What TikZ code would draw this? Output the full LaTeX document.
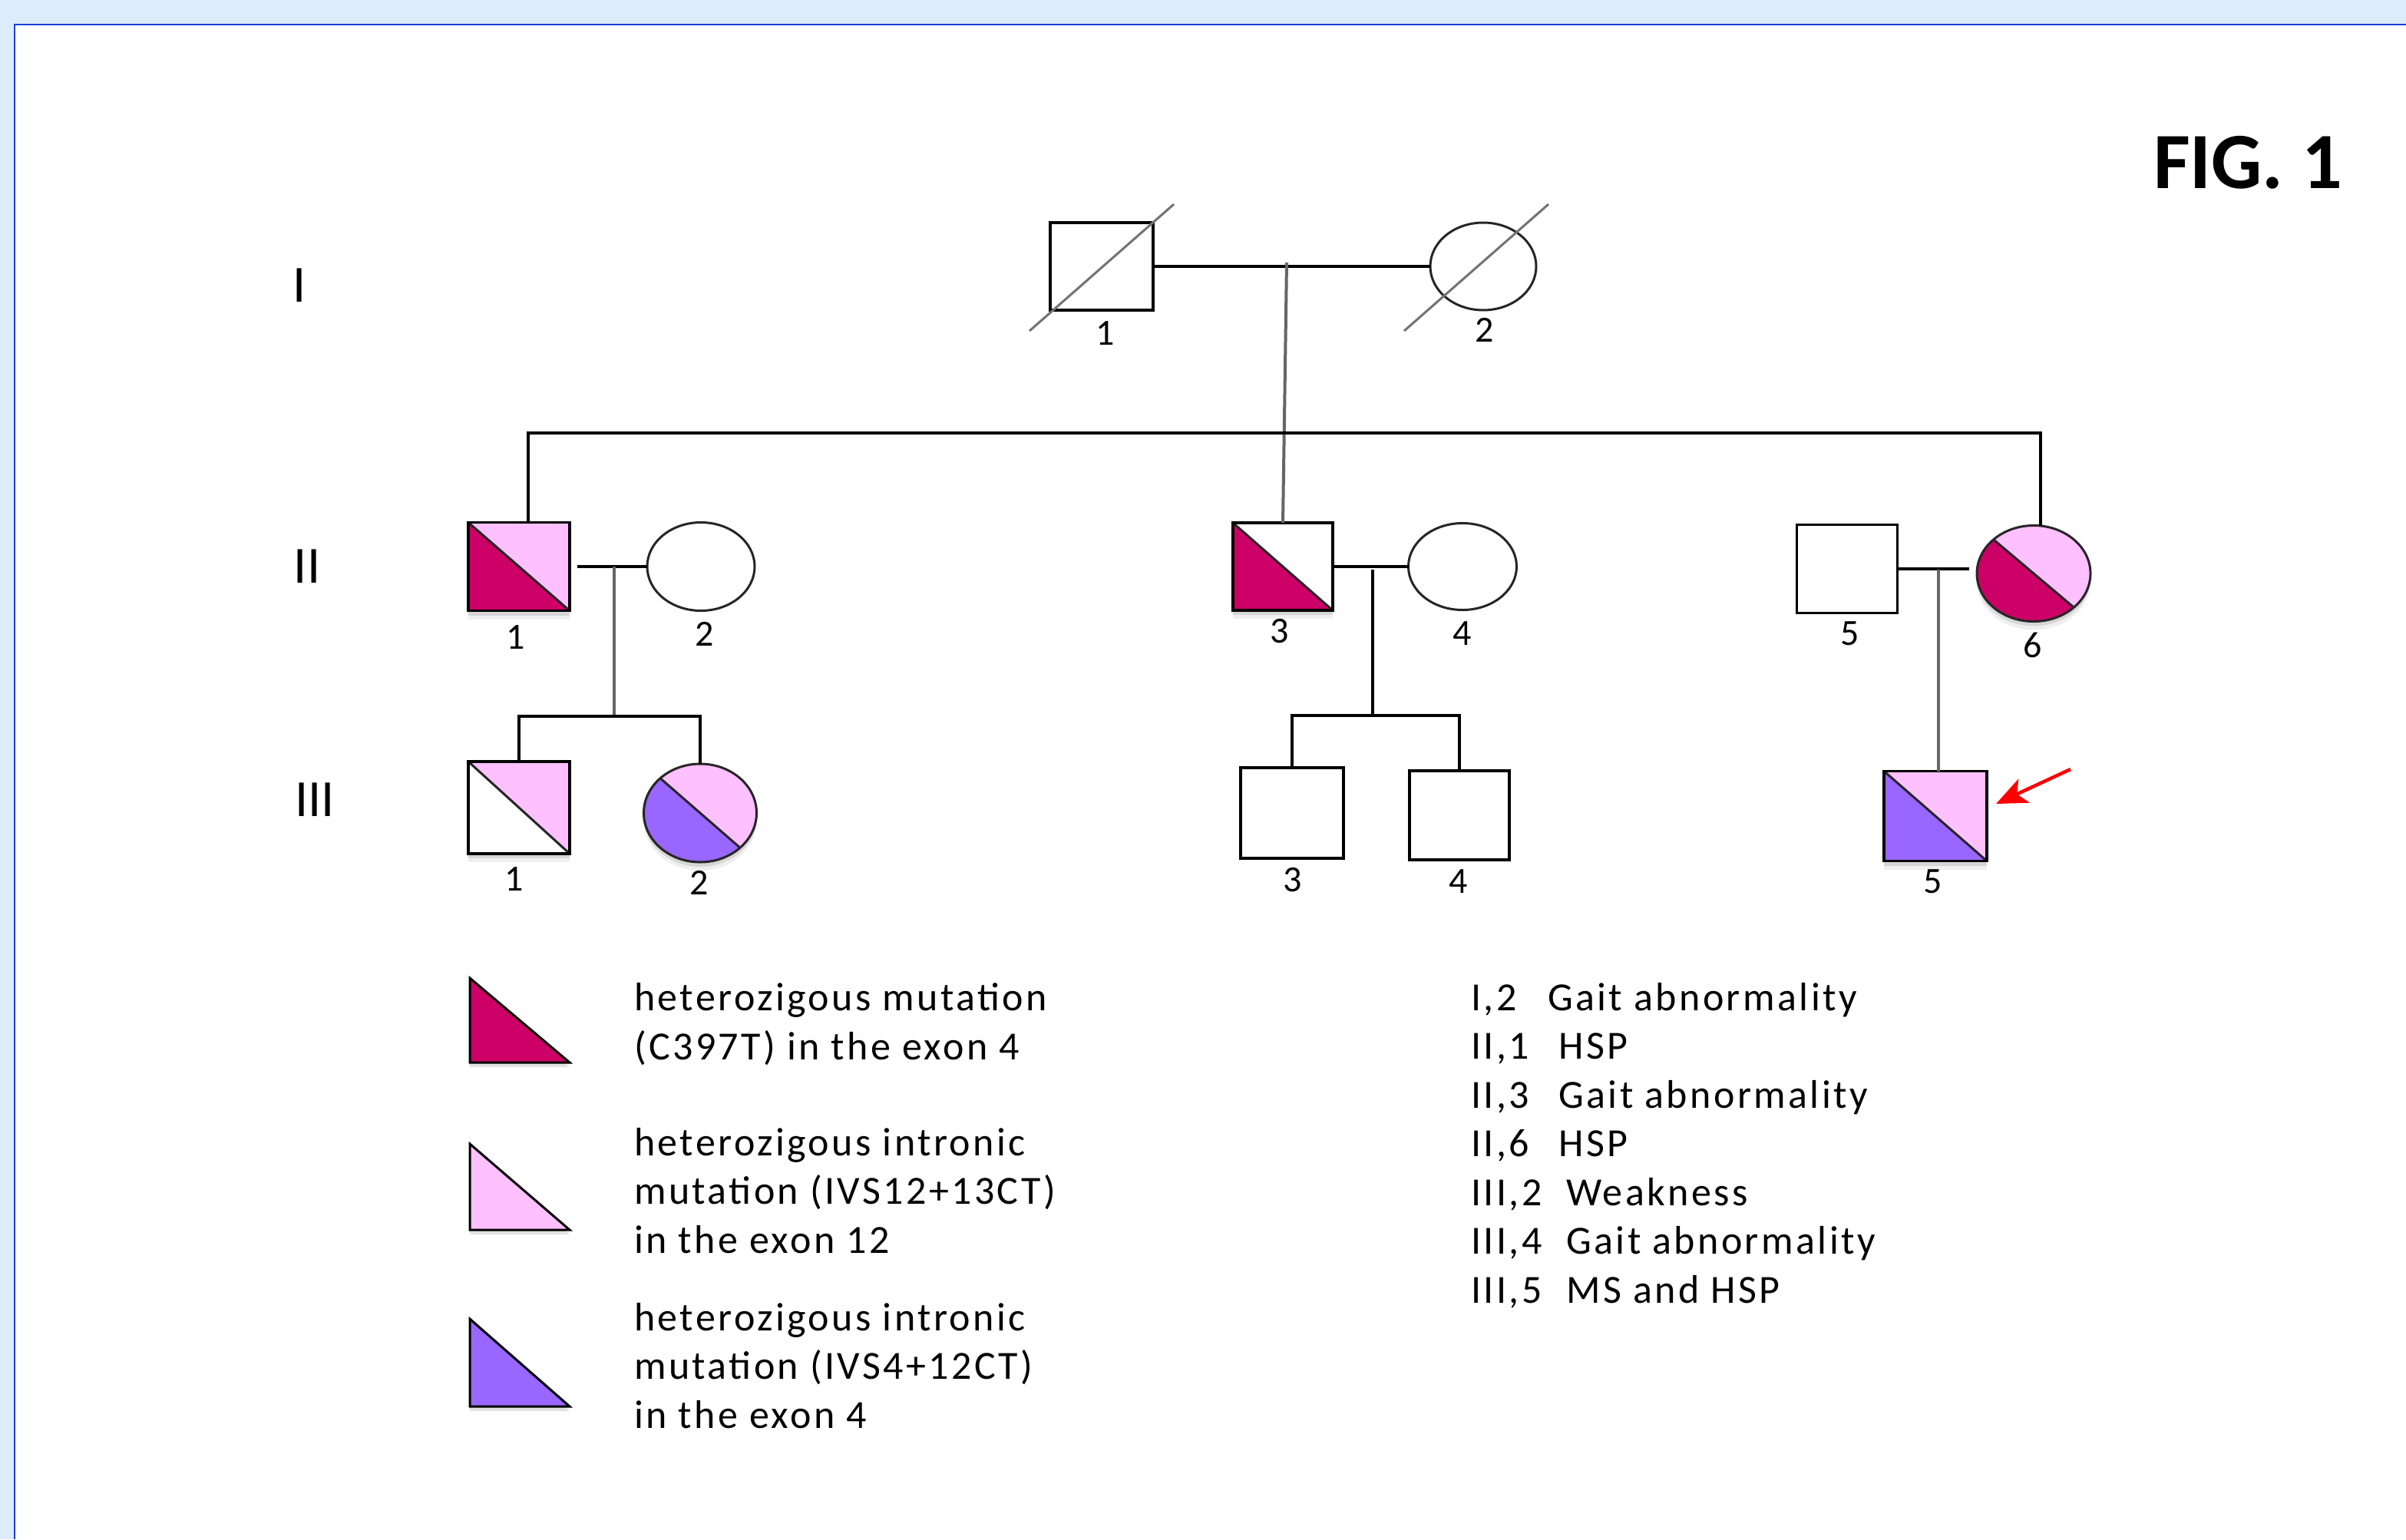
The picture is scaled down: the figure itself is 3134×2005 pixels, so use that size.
\documentclass[tikz,border=0pt]{standalone}
\usepackage{fontspec}
\setmainfont{Carlito}
\newfontfamily\legfont[LetterSpace=6.5]{Carlito}
\usetikzlibrary{shapes.geometric,shadows,arrows.meta,calc}

\definecolor{ribbon}{HTML}{DDEBFA}
\definecolor{frameblue}{HTML}{1A3ED6}
\definecolor{hetC}{HTML}{CC0066}
\definecolor{hetA}{HTML}{FFC0FF}
\definecolor{hetB}{HTML}{9966FF}

\tikzset{
  person/.style={draw=black, line width=3.5pt, inner sep=0pt, outer sep=0pt, fill=white},
  male/.style={person, rectangle, minimum width=132pt, minimum height=115pt},
  female/.style={person, ellipse, draw=black!85, line width=3pt, minimum width=140pt, minimum height=115pt},
  halves/.style 2 args={path picture={
     \fill[#1] (path picture bounding box.north west) -- (path picture bounding box.south west)
               -- (path picture bounding box.south east) -- cycle;
     \fill[#2] (path picture bounding box.north west) -- (path picture bounding box.north east)
               -- (path picture bounding box.south east) -- cycle;
     \draw[line width=3pt, black!85] (path picture bounding box.north west)
               -- (path picture bounding box.south east);}},
  shade below/.style={drop shadow={opacity=0.12, shadow xshift=0pt, shadow yshift=-11pt},
                      drop shadow={opacity=0.22, shadow xshift=0pt, shadow yshift=-6pt}},
  kin/.style={line width=3.5pt, black},
  descent/.style={line width=4pt, black!60},
  deceased/.style={line width=3pt, black!55},
  idnum/.style={font=\fontsize{48}{50}\selectfont, inner sep=0pt},
  gen/.style={font=\fontsize{68}{70}\selectfont, inner sep=0pt},
  legtext/.style={font=\legfont\fontsize{52}{63.5}\selectfont, align=left, anchor=west, inner sep=0pt},
  legmark/.style={line width=3pt, draw=black, line join=miter},
}

\begin{document}
\begin{tikzpicture}[x=1pt, y=-1pt]
\useasboundingbox (0,0) rectangle (3134,2005);

% window frame
\fill[ribbon] (0,0) rectangle (3134,2005);
\fill[white] (19,32) rectangle (3134,2005);
\draw[frameblue, line width=2.5pt] (19,2005) -- (19,32) -- (3134,32);

\node[font=\fontsize{104}{110}\selectfont\bfseries] (title) at (2928,212) {FIG. 1};

% generation numerals
\node[gen] (gI)   at (390,372)  {I};
\node[gen] (gII)  at (400,738)  {II};
\node[gen] (gIII) at (410,1042) {III};

% ---------- generation I ----------
\node[male, minimum width=134pt, minimum height=114pt] (I1) at (1435,347) {};
\node[female, minimum width=138pt, minimum height=114pt] (I2) at (1932,347) {};
\draw[deceased] (1341,431) -- (1529,266);
\draw[deceased] (1829,431) -- (2017,266);
\node[idnum] (nI1) at (1440,434) {1};
\node[idnum] (nI2) at (1934,430) {2};

% ---------- generation II ----------
\node[male, halves={hetC}{hetA}, shade below] (II1) at (676,738) {};
\node[female] (II2) at (913,738) {};
\node[male, minimum width=130pt, minimum height=114pt, halves={hetC}{white}, shade below] (II3) at (1671,738) {};
\node[female, minimum width=141pt, minimum height=113pt] (II4) at (1905,738) {};
\node[male, minimum width=131pt] (II5) at (2406,741) {};
\node[female, minimum width=148pt, minimum height=125pt, halves={hetC}{hetA}, shade below] (II6) at (2649,747) {};

\node[idnum] (nII1) at (672,830) {1};
\node[idnum] (nII2) at (918,826) {2};
\node[idnum] (nII3) at (1667,822) {3};
\node[idnum] (nII4) at (1905,825) {4};
\node[idnum] (nII5) at (2410,825) {5};
\node[idnum] (nII6) at (2648,840) {6};

% ---------- generation III ----------
\node[male, minimum height=120pt, halves={white}{hetA}, shade below] (III1) at (676,1052) {};
\node[female, minimum width=147pt, minimum height=128pt, halves={hetB}{hetA}, shade below] (III2) at (912,1059) {};
\node[male, minimum width=134pt, minimum height=118pt] (III3) at (1683,1059) {};
\node[male, minimum width=130pt, minimum height=116pt] (III4) at (1901,1062) {};
\node[male, minimum width=134pt, minimum height=117pt, halves={hetB}{hetA}, shade below] (III5) at (2521,1063) {};

\node[idnum] (nIII1) at (670,1145) {1};
\node[idnum] (nIII2) at (911,1150) {2};
\node[idnum] (nIII3) at (1684,1146) {3};
\node[idnum] (nIII4) at (1900,1148) {4};
\node[idnum] (nIII5) at (2518,1148) {5};

% ---------- lines of descent ----------
\coordinate (m1) at (1676,342);
\coordinate (s1) at (688,564);
\coordinate (s2) at (2658,564);
\coordinate (m2) at (800,738);
\coordinate (c2) at (800,933);
\coordinate (m3) at (1788,742);
\coordinate (c3) at (1788,932);
\coordinate (m4) at (2525,742);

% I-1 x I-2
\draw[kin] (I1.east) -- (I2.west);
\draw[descent] (m1) -- (II3.north);
\draw[kin] (s1 |- II1.north) -- (s1) -- (s2) -- (s2 |- II6.north);

% II-1 x II-2
\draw[kin] ([xshift=10pt]II1.east) -- (II2.west);
\draw[descent] (m2) -- (c2);
\draw[kin] (III1.north) |- (c2) -| (III2.north);

% II-3 x II-4
\draw[kin] (II3.east) -- (II4.west);
\draw[kin] (m3) -- (c3);
\draw[kin] (III3.north) |- (c3) -| (III4.north);

% II-5 x II-6
\draw[kin] (II5.east) -- ([xshift=-10pt]II6.west |- II5.east);
\draw[descent] (m4) -- (m4 |- III5.north);

% proband pointer
\coordinate (pointer) at (2697,1002);
\draw[red, line width=4.5pt, -{Stealth[length=40pt, width=34pt, inset=10pt]}]
  (pointer) -- ([shift={(12pt,16pt)}]III5.east);

% ---------- legend ----------
\path[legmark, fill=hetC, drop shadow={opacity=0.22, shadow xshift=0pt, shadow yshift=-6pt}]
  (612,1274) -- (612,1384) -- (742,1384) -- cycle;
\path[legmark, fill=hetA, drop shadow={opacity=0.22, shadow xshift=0pt, shadow yshift=-6pt}]
  (612,1490) -- (612,1602) -- (742,1602) -- cycle;
\path[legmark, fill=hetB, drop shadow={opacity=0.22, shadow xshift=0pt, shadow yshift=-6pt}]
  (612,1718) -- (612,1832) -- (742,1832) -- cycle;

\node[legtext] (L1) at (826,1334) {heterozigous mutation\\(C397T) in the exon 4};
\node[legtext] (L2) at (826,1551) {heterozigous intronic\\mutation (IVS12+13CT)\\in the exon 12};
\node[legtext] (L3) at (826,1779) {heterozigous intronic\\mutation (IVS4+12CT)\\in the exon 4};

\node[legtext] (P) at (1916,1492) {%
  \makebox[100pt][l]{I,2}Gait abnormality\\
  \makebox[114pt][l]{II,1}HSP\\
  \makebox[114pt][l]{II,3}Gait abnormality\\
  \makebox[114pt][l]{II,6}HSP\\
  \makebox[124pt][l]{III,2}Weakness\\
  \makebox[124pt][l]{III,4}Gait abnormality\\
  \makebox[124pt][l]{III,5}MS and HSP};
\end{tikzpicture}
\end{document}
